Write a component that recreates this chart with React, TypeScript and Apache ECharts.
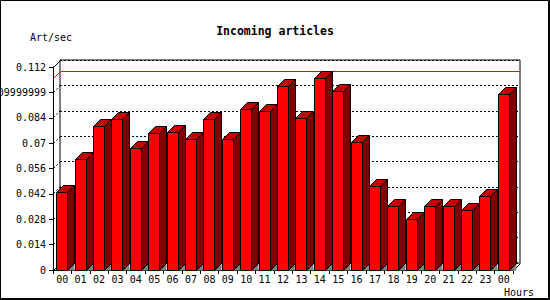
import React, { useEffect, useRef } from "react";
import * as echarts from "echarts";

const hours = ["00","01","02","03","04","05","06","07","08","09","10","11","12","13","14","15","16","17","18","19","20","21","22","23","00"];
const artPerSec = [0.0428,0.0610,0.0790,0.0832,0.0670,0.0753,0.0760,0.0722,0.0832,0.0722,0.0885,0.0876,0.1012,0.0837,0.1056,0.0986,0.0703,0.0463,0.0351,0.0279,0.0351,0.0351,0.0329,0.0406,0.0968];
const yTickLabels = ["0","0.014","0.028","0.042","0.056","0.07","0.084","0.09999999","0.112"];
const yStep = 0.014;
const yMax = 0.112;

const FONT = "'DejaVu Sans Mono', 'Liberation Mono', monospace";
const D = 7; // 3D depth in px
const BAR_W = 11;
const c = (v: number) => Math.round(v - 0.5) + 0.5;

export default function App() {
  const ref = useRef<HTMLDivElement>(null);
  useEffect(() => {
    document.body.style.margin = "0";
    if (!ref.current) return;
    const chart = echarts.init(ref.current, null, { renderer: "svg" });
    const maxVal = Math.max(...artPerSec);

    const option: any = {
      animation: false,
      backgroundColor: "#ffffff",
      title: {
        text: "Incoming articles",
        left: "center",
        top: 20,
        textStyle: { fontFamily: FONT, fontWeight: "bold", fontSize: 11.5, color: "#000" },
      },
      grid: [
        { left: 53, right: 37, top: 67, bottom: 30, show: false, containLabel: false, outerBoundsMode: "none" },
        { left: 60, right: 30, top: 60, bottom: 37, show: true, borderColor: "#000", borderWidth: 1, backgroundColor: "transparent", containLabel: false, outerBoundsMode: "none" },
      ],
      xAxis: [
        {
          type: "category",
          gridIndex: 0,
          data: hours,
          axisLine: { show: true, lineStyle: { color: "#000", width: 1 } },
          axisTick: { show: true, length: 4, alignWithLabel: false, lineStyle: { color: "#000" } },
          axisLabel: { fontFamily: FONT, fontSize: 10, color: "#000", margin: 4, interval: 0, hideOverlap: false },
          splitLine: { show: false },
        },
        { type: "category", gridIndex: 1, data: hours, show: false },
      ],
      yAxis: [
        {
          type: "value",
          gridIndex: 0,
          min: 0,
          max: yMax,
          interval: yStep,
          axisLine: { show: true, lineStyle: { color: "#000", width: 1 } },
          axisTick: { show: true, length: 4, lineStyle: { color: "#000" } },
          axisLabel: {
            fontFamily: FONT,
            fontSize: 10,
            color: "#000",
            margin: 7,
            hideOverlap: false,
            formatter: (v: number) => yTickLabels[Math.round(v / yStep)] ?? String(v),
          },
          splitLine: { show: false },
        },
        {
          type: "value",
          gridIndex: 1,
          min: 0,
          max: yMax,
          interval: yStep,
          axisLine: { show: false },
          axisTick: { show: false },
          axisLabel: { show: false },
          splitLine: { show: true, lineStyle: { color: "#000", width: 1, type: [2, 2] } },
        },
      ],
      graphic: [
        { type: "rect", shape: { x: 0.5, y: 0.5, width: 548, height: 298 }, style: { fill: "none", stroke: "#000", lineWidth: 1 }, z: 100 },
        { type: "line", shape: { x1: 549.5, y1: 0, x2: 549.5, y2: 300 }, style: { stroke: "#000", lineWidth: 1 }, z: 100 },
        { type: "line", shape: { x1: 0, y1: 299.5, x2: 550, y2: 299.5 }, style: { stroke: "#000", lineWidth: 1 }, z: 100 },
        { type: "text", x: 30, y: 37, style: { text: "Art/sec", font: `10px ${FONT}`, fill: "#000", verticalAlign: "middle", align: "left" } },
        { type: "text", x: 504, y: 292, style: { text: "Hours", font: `10px ${FONT}`, fill: "#000", verticalAlign: "middle", align: "left" } },
      ],
      series: [
        {
          type: "custom",
          name: "frame",
          xAxisIndex: 0,
          yAxisIndex: 0,
          clip: false,
          silent: true,
          data: [[0, maxVal]],
          encode: { x: 0, y: 1 },
          renderItem: (params: any, api: any) => {
            const cs = params.coordSys;
            const x0 = c(cs.x), y0 = c(cs.y), x1 = c(cs.x + cs.width), y1 = c(cs.y + cs.height);
            const yv = c(api.coord([0, api.value(1)])[1]);
            const children: any[] = [];
            const blk = { stroke: "#000", lineWidth: 1, fill: "none" };
            children.push({ type: "line", shape: { x1: x0, y1: y0, x2: x0 + D, y2: y0 - D }, style: blk });
            children.push({ type: "line", shape: { x1: x0, y1: y1, x2: x0 + D, y2: y1 - D }, style: blk });
            children.push({ type: "line", shape: { x1: x1, y1: y1, x2: x1 + D, y2: y1 - D }, style: blk });
            for (let i = 1; i < yTickLabels.length - 1; i++) {
              const ty = c(api.coord([0, i * yStep])[1]);
              children.push({ type: "line", shape: { x1: x0, y1: ty, x2: x0 + D, y2: ty - D }, style: { stroke: "#000", lineWidth: 1, lineDash: [2, 2] } });
            }
            children.push({
              type: "polyline",
              shape: { points: [[x0, yv], [x0 + D, yv - D], [x1 + D, yv - D]] },
              style: { stroke: "#ff0000", lineWidth: 1, fill: "none" },
            });
            return { type: "group", children };
          },
        },
        {
          type: "custom",
          name: "Art/sec",
          xAxisIndex: 0,
          yAxisIndex: 0,
          clip: false,
          data: artPerSec.map((v, i) => [i, v]),
          encode: { x: 0, y: 1 },
          renderItem: (params: any, api: any) => {
            const idx = api.value(0);
            const val = api.value(1);
            const top = api.coord([idx, val]);
            const base = api.coord([idx, 0]);
            const xa = c(top[0] - BAR_W / 2);
            const xb = xa + BAR_W;
            const ty = c(top[1]);
            const by = c(base[1]);
            const edge = { stroke: "#000", lineWidth: 1 };
            return {
              type: "group",
              children: [
                { type: "polygon", shape: { points: [[xb, by], [xb + D, by - D], [xb + D, by]] }, style: { fill: "#808080" } },
                { type: "polygon", shape: { points: [[xb, ty], [xb + D, ty - D], [xb + D, by - D], [xb, by]] }, style: { fill: "#800000", ...edge } },
                { type: "polygon", shape: { points: [[xa, ty], [xa + D, ty - D], [xb + D, ty - D], [xb, ty]] }, style: { fill: "#c40000", ...edge } },
                { type: "rect", shape: { x: xa, y: ty, width: BAR_W, height: by - ty }, style: { fill: "#ff0000", ...edge } },
              ],
            };
          },
        },
      ],
    };
    chart.setOption(option);
    return () => chart.dispose();
  }, []);
  return <div ref={ref} style={{ width: 550, height: 300 }} />;
}
